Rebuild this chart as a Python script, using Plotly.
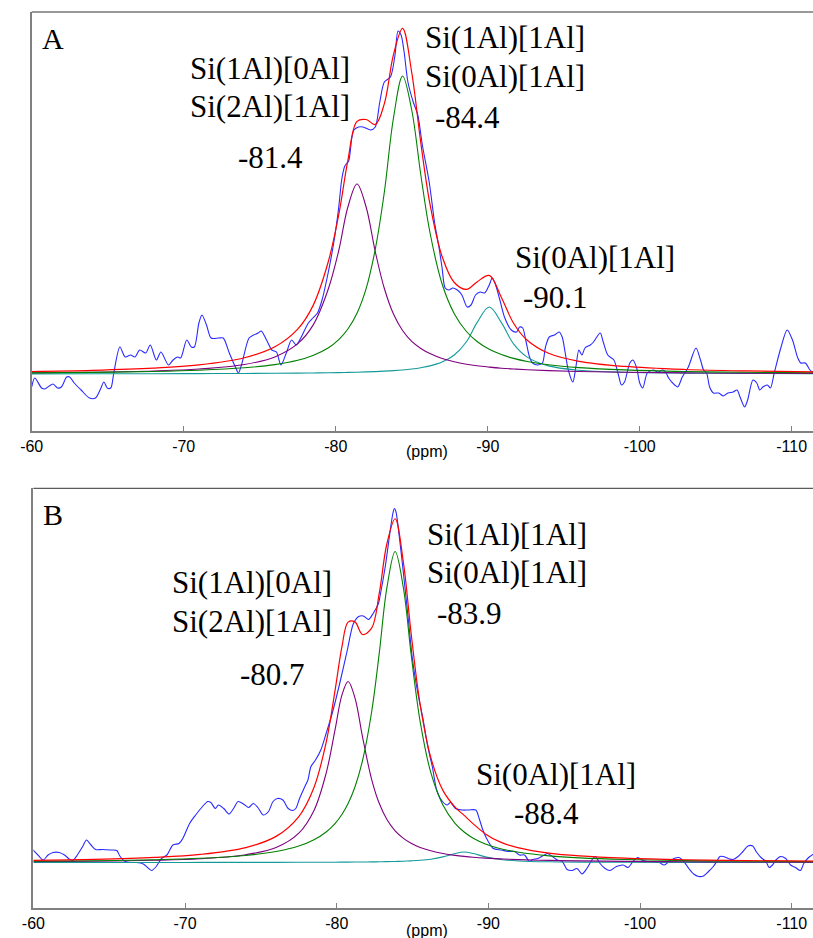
import plotly.graph_objects as go

# ---------------- DATA ----------------
tick_vals = [-60, -70, -80, -90, -100, -110]
tick_text = ["-60", "-70", "-80", "-90", "-100", "-110"]

# Panel A : fitted components (intensity, arbitrary units) on a common ppm grid
fit_ppm_A = [-60, -64, -68, -71, -74, -76, -77.5, -78.5, -79.5, -80.2, -80.8, -81.4, -82, -82.6,
             -83.2, -83.8, -84.4, -85, -85.6, -86.2, -87, -87.8, -88.6, -89.3, -90.1, -90.9,
             -91.7, -92.6, -94, -96, -99, -103, -107, -111.5]
purple_A = [1.19, 1.80, 3.01, 4.94, 9.52, 17.1, 30.3, 48.6, 84.5, 123.5, 167, 190, 167, 122.5,
            85.5, 60.0, 43.5, 32.6, 25.5, 20.4, 15.5, 12.2, 9.8, 8.2, 6.9, 5.8,
            5.0, 4.3, 3.4, 2.5, 1.76, 1.17, 0.84, 0.60]
green_A = [1.15, 1.63, 2.52, 3.76, 6.20, 9.40, 13.7, 18.5, 26.0, 34.4, 45.0, 60.8, 85.4, 124.6,
           182.0, 256.0, 298, 264.0, 199.0, 141.5, 90.0, 60.3, 42.5, 32.5, 24.7, 19.4,
           15.6, 12.5, 9.2, 6.4, 4.1, 2.5, 1.7, 1.2]
cyan_A = [0.15, 0.21, 0.29, 0.38, 0.54, 0.70, 0.87, 1.03, 1.23, 1.41, 1.59, 1.81, 2.08, 2.41,
          2.83, 3.37, 4.07, 5.0, 6.3, 8.1, 12.0, 19.0, 32.3, 51.4, 67, 51.4,
          30.2, 16.9, 8.1, 3.8, 1.73, 0.84, 0.49, 0.31]

# Panel A : experimental spectrum
exp_ppm_A = [-60.0, -60.2, -60.65, -60.86, -61.4, -61.7, -61.95, -62.3, -62.5, -62.8, -63.25, -63.8,
             -64.2, -64.5, -64.75, -64.97, -65.2, -65.4, -65.8, -66.15, -66.5, -66.8, -67.1, -67.5,
             -67.8, -68.2, -68.5, -69.0, -69.3, -69.6, -69.8, -70.2, -70.5, -70.7, -71.0, -71.2,
             -71.5, -71.8, -72.3, -72.6, -73.0, -73.4, -73.6, -73.8, -74.3, -74.6, -74.9, -75.1,
             -75.45, -75.8, -76.1, -76.4, -76.75, -77.1, -77.4, -77.7, -78.2, -78.5, -78.8, -79.1,
             -79.5, -79.9, -80.2, -80.4, -80.6, -80.85, -81.05, -81.2, -81.5, -81.8, -82.3, -82.6,
             -82.9, -83.2, -83.6, -83.9, -84.1, -84.3, -84.5, -84.75, -85.1, -85.4, -85.7, -86.15,
             -86.5, -86.8, -87.0, -87.2, -87.45, -87.7, -88.0, -88.3, -88.65, -88.9, -89.2, -89.5,
             -89.8, -90.1, -90.3, -90.5, -90.8, -91.1, -91.55, -91.9, -92.1, -92.3, -92.5, -92.75,
             -92.95, -93.3, -93.6, -93.8, -94.05, -94.4, -94.7, -94.9, -95.1, -95.3, -95.6, -95.8,
             -96.0, -96.2, -96.4, -96.75, -96.96, -97.4, -97.6, -97.9, -98.3, -98.6, -98.8, -99.0,
             -99.35, -99.55, -99.8, -100.0, -100.2, -100.5, -100.9, -101.2, -101.5, -101.7, -101.9, -102.3,
             -102.5, -102.8, -103.2, -103.7, -104.0, -104.2, -104.4, -104.6, -104.85, -105.2, -105.5, -105.8,
             -106.15, -106.4, -106.6, -106.9, -107.1, -107.45, -107.7, -107.9, -108.1, -108.4, -108.6, -108.85,
             -109.3, -109.7, -110.05, -110.4, -110.6, -110.9, -111.2, -111.45]
exp_int_A = [-13, -4, -14, -15, -10, -14, -13, -3, -3, -9, -16, -24,
             -24, -16, -8, -14, -14, 1, 27, 17, 19, 17, 24, 21,
             29, 14, 22, 9, 14, 17, 16, 34, 27, 27, 51, 59,
             49, 36, 36, 36, 21, 7, 1, 9, 36, 39, 41, 43,
             34, 24, 22, 9, 21, 34, 29, 36, 51, 56, 61, 74,
             101, 134, 167, 195, 208, 213, 235, 244, 247, 247, 244, 247,
             272, 292, 297, 319, 343, 339, 322, 292, 272, 259, 229, 192,
             152, 126, 106, 86, 84, 86, 84, 79, 67, 69, 79, 82,
             81, 89, 96, 90, 74, 57, 44, 42, 47, 46, 34, 17,
             11, 9, 11, 27, 37, 39, 42, 37, 21, 4, -8, 7,
             24, 19, 26, 29, 32, 41, 32, 19, 14, -1, -11, -8,
             11, 14, 6, -9, -14, 1, 4, 2, 4, 2, -4, -11,
             -13, -3, 7, 26, 14, 4, 1, -13, -19, -19, -22, -19,
             -18, -16, -23, -33, -26, -6, -9, -16, -13, -11, -14, 1,
             27, 44, 34, 16, 11, 11, 4, 1]

# Panel B : fitted components
fit_ppm_B = [-60, -64, -68, -71, -74, -76, -77.5, -78.5, -79.3, -79.9, -80.35, -80.75, -81.2, -81.7,
             -82.3, -82.8, -83.3, -83.85, -84.4, -84.9, -85.5, -86.2, -87, -87.8, -88.4, -89,
             -89.8, -90.8, -92, -94, -96, -99, -103, -107, -111.5]
purple_B = [0.86, 1.31, 2.25, 3.81, 7.78, 15.0, 29.4, 52.1, 89.2, 133.6, 167.8, 181, 164.7, 125.6,
            83.2, 59.2, 43.3, 31.7, 24.1, 19.2, 15.0, 11.7, 9.0, 7.15, 6.11, 5.28,
            4.41, 3.59, 2.88, 2.08, 1.58, 1.11, 0.75, 0.54, 0.39]
green_B = [1.23, 1.77, 2.76, 4.18, 7.05, 10.96, 16.4, 22.7, 30.5, 39.2, 48.3, 59.0, 75.5, 101.9,
           150.5, 208.9, 274.1, 311, 274.1, 208.9, 140.8, 90.1, 57.5, 39.2, 30.5, 24.3,
           18.6, 13.8, 10.2, 6.65, 4.67, 3.02, 1.90, 1.30, 0.91]
cyan_B = [0.03, 0.04, 0.06, 0.08, 0.11, 0.15, 0.19, 0.24, 0.28, 0.32, 0.35, 0.39, 0.44, 0.50,
          0.60, 0.70, 0.84, 1.03, 1.29, 1.63, 2.21, 3.33, 5.61, 9.04, 10.5, 9.04,
          5.61, 2.95, 1.55, 0.70, 0.39, 0.21, 0.11, 0.07, 0.04]

# Panel B : experimental spectrum
exp_ppm_B = [-59.94, -60.3, -60.65, -60.97, -61.3, -61.7, -62.05, -62.4, -62.6, -62.9, -63.25, -63.5,
             -63.8, -64.1, -64.55, -65.1, -65.5, -65.7, -66.05, -66.4, -66.8, -67.25, -67.6, -67.8,
             -68.1, -68.45, -68.8, -69.2, -69.6, -69.85, -70.3, -70.7, -71.15, -71.5, -71.7, -72.0,
             -72.2, -72.55, -72.9, -73.2, -73.5, -73.85, -74.2, -74.5, -74.8, -75.15, -75.5, -75.8,
             -76.1, -76.45, -76.8, -77.1, -77.3, -77.55, -77.9, -78.1, -78.3, -78.6, -78.95, -79.3,
             -79.7, -80.25, -80.7, -81.1, -81.45, -81.75, -82.1, -82.4, -82.75, -82.85, -83.2, -83.5,
             -83.7, -83.8, -83.9, -84.15, -84.4, -84.7, -85.0, -85.35, -85.7, -86.0, -86.3, -86.6,
             -86.97, -87.29, -87.5, -87.83, -88.26, -88.69, -89.17, -89.39, -89.67, -89.99, -90.32, -90.86,
             -91.29, -91.73, -92.05, -92.38, -92.7, -92.92, -93.24, -93.57, -93.89, -94.22, -94.54, -94.87,
             -95.19, -95.52, -95.84, -96.17, -96.49, -96.82, -97.04, -97.36, -97.69, -98.01, -98.44, -98.88,
             -99.2, -99.53, -99.85, -100.18, -100.5, -100.83, -101.26, -101.59, -101.91, -102.24, -102.56, -102.89,
             -103.21, -103.53, -103.86, -104.18, -104.51, -104.83, -105.05, -105.26, -105.48, -105.81, -106.13, -106.46,
             -106.78, -107.11, -107.43, -107.65, -107.97, -108.3, -108.51, -108.73, -108.95, -109.27, -109.6, -109.92,
             -110.25, -110.57, -110.79, -111.11, -111.44]
exp_int_B = [13, 7.5, 2.5, 7.5, 10, 10, 7.5, 3, 2, 7.5, 16, 22.5,
             17.5, 13, 13, 12.5, 12, 6.5, 1, 0, 0, -1.5, -6, -8,
             -4, 4, 7.5, 17.5, 19, 24, 39, 47.5, 56, 61, 60, 54,
             57.5, 54, 48.5, 54, 61, 58.5, 55, 59, 55, 47.5, 51, 61,
             64, 62.5, 54, 52, 54, 64, 76, 82.5, 96, 102.5, 112.5, 129,
             149, 182.5, 212.5, 239, 246, 246.5, 243, 249, 259, 266, 296, 329,
             349, 354, 351, 322.5, 289, 246, 202.5, 169, 142.5, 116, 96, 72,
             61, 57.5, 60, 54, 52.5, 52.5, 52.5, 44, 31, 21, 14, 12.5,
             11, 11, 7.5, 7.5, 1, 3, 4, 6.5, 9, 6, 2.5, 1,
             -7, -8, -6, -11.5, -6, 2.5, 6, -1, -6, -8, -4, -2.5,
             -5, 1, 5, 2, 1, 1, 0, -2.5, 1, 4, 5, 1,
             -6, -11.5, -14, -13.5, -9, -4, 1, 6, 6, 4, 3, 6,
             11, 16.5, 16.5, 11, 5, 1, -5, -2.5, 2.5, 6, 4, -2.5,
             -5, -8, -1, 5, 8.5]

# Peak labels
labels_A = ["Si(1Al)[0Al]", "Si(2Al)[1Al]", "-81.4", "Si(1Al)[1Al]", "Si(0Al)[1Al]", "-84.4",
            "Si(0Al)[1Al]", "-90.1"]
labels_B = ["Si(1Al)[0Al]", "Si(2Al)[1Al]", "-80.7", "Si(1Al)[1Al]", "Si(0Al)[1Al]", "-83.9",
            "Si(0Al)[1Al]", "-88.4"]

# ---------------- STYLE / LAYOUT ----------------
W, H = 813, 938
BLUE, RED, GREEN, PURPLE, CYAN = "#2a2aff", "#ff0000", "#008000", "#800080", "#159a9a"

# label positions in pixels (center x, baseline y)
pos_A = [(262, 79), (262, 116.7), (262.5, 168.3), (500.8, 48.3), (500.8, 86.7), (462.5, 128.3),
         (592, 268.3), (551.7, 308.3)]
pos_B = [(243.3, 593.3), (243.3, 631.7), (264.2, 685), (502.2, 545), (502.2, 583.3), (464.2, 624),
         (552, 785), (542.5, 824)]

def fx(px):
    return px / W

def fy(py):
    return 1 - py / H

fig = go.Figure()

def add_panel(xa, ya, ppm_fit, pur, grn, cya, ppm_exp, intens):
    red = [p + g + c for p, g, c in zip(pur, grn, cya)]
    common = dict(xaxis=xa, yaxis=ya, mode="lines", showlegend=False, hoverinfo="skip")
    fig.add_trace(go.Scatter(x=ppm_exp, y=intens, line=dict(color=BLUE, width=1.1, shape="spline", smoothing=0.8), **common))
    fig.add_trace(go.Scatter(x=ppm_fit, y=cya, line=dict(color=CYAN, width=1.1, shape="spline", smoothing=1), **common))
    fig.add_trace(go.Scatter(x=ppm_fit, y=pur, line=dict(color=PURPLE, width=1.1, shape="spline", smoothing=1), **common))
    fig.add_trace(go.Scatter(x=ppm_fit, y=grn, line=dict(color=GREEN, width=1.1, shape="spline", smoothing=1), **common))
    fig.add_trace(go.Scatter(x=ppm_fit, y=red, line=dict(color=RED, width=1.2, shape="spline", smoothing=1), **common))

add_panel("x", "y", fit_ppm_A, purple_A, green_A, cyan_A, exp_ppm_A, exp_int_A)
add_panel("x2", "y2", fit_ppm_B, purple_B, green_B, cyan_B, exp_ppm_B, exp_int_B)

SANS = "Arial, Liberation Sans, sans-serif"
xcommon = dict(range=[-60, -111.4], tickmode="array", tickvals=tick_vals, ticktext=tick_text,
               ticks="inside", ticklen=5, tickwidth=1, tickcolor="#808080",
               showline=True, linecolor="#808080", linewidth=2, showgrid=False, zeroline=False,
               tickfont=dict(family=SANS, size=16, color="black"))
ycommon = dict(showline=True, linecolor="#808080", linewidth=1.5, showgrid=False, zeroline=False,
               showticklabels=False, ticks="")

fig.update_layout(
    width=W, height=H, margin=dict(l=0, r=0, t=0, b=0),
    paper_bgcolor="white", plot_bgcolor="white",
    xaxis=dict(domain=[fx(20), 1], anchor="y", **xcommon),
    yaxis=dict(domain=[fy(431), fy(12)], range=[-57, 362], anchor="x", **ycommon),
    xaxis2=dict(domain=[fx(21.7), 1], anchor="y2", **xcommon),
    yaxis2=dict(domain=[fy(907.7), fy(488.3)], range=[-45.2, 374.2], anchor="x2", **ycommon),
)

shapes = [
    dict(type="line", xref="paper", yref="paper", x0=fx(20), x1=1, y0=fy(12), y1=fy(12),
         line=dict(color="#333333", width=1)),
    dict(type="line", xref="paper", yref="paper", x0=fx(21.7), x1=1, y0=fy(488.3), y1=fy(488.3),
         line=dict(color="#333333", width=1)),
]
fig.update_layout(shapes=shapes)

SERIF = "Liberation Serif, Times New Roman, serif"
anns = []

def serif_ann(text, cx, base, size=31):
    anns.append(dict(text=text, xref="paper", yref="paper", x=fx(cx), y=fy(base - 0.3375 * size),
                     xanchor="center", yanchor="middle", showarrow=False,
                     font=dict(family=SERIF, size=size, color="black")))

for t, (cx, b) in zip(labels_A, pos_A):
    serif_ann(t, cx, b)
for t, (cx, b) in zip(labels_B, pos_B):
    serif_ann(t, cx, b)
serif_ann("A", 41.7, 48.3, 30)
serif_ann("B", 41.7, 525, 30)

for yc in (452, 930):
    anns.append(dict(text="(ppm)", xref="paper", yref="paper", x=fx(421), y=fy(yc),
                     xanchor="center", yanchor="middle", showarrow=False,
                     font=dict(family=SANS, size=16, color="black")))

fig.update_layout(annotations=anns)

fig.write_html("out.html")
